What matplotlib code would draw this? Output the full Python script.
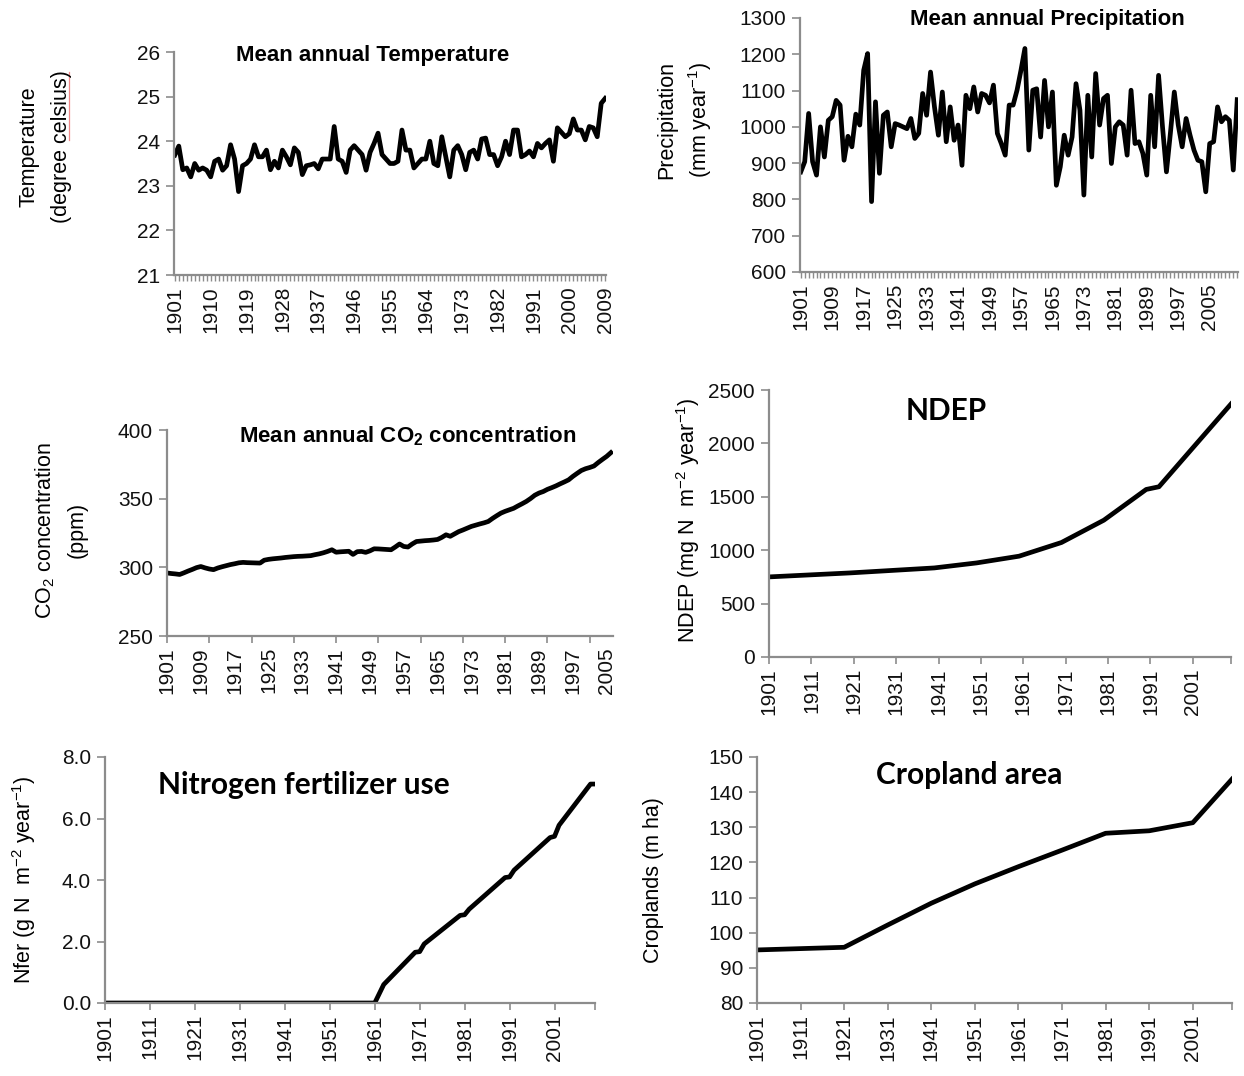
import numpy as np
import matplotlib
matplotlib.use("Agg")
import matplotlib.pyplot as plt
from matplotlib.lines import Line2D
from matplotlib.ticker import FormatStrFormatter

NARROW = ["Liberation Sans Narrow", "Liberation Sans", "DejaVu Sans"]
BOLDF = ["Lato", "Open Sans", "DejaVu Sans"]
GREY = "#8c8c8c"

plt.rcParams["mathtext.default"] = "regular"
plt.rcParams["mathtext.fontset"] = "custom"
plt.rcParams["mathtext.rm"] = "Liberation Sans"
plt.rcParams["mathtext.bf"] = "Liberation Sans:bold"

# ---------------- data ----------------
temp_years = np.arange(1901, 2010)
temp = [23.69, 23.89, 23.36, 23.40, 23.20, 23.50, 23.35, 23.40, 23.35, 23.20,
        23.55, 23.60, 23.35, 23.45, 23.92, 23.60, 22.87, 23.45, 23.50, 23.60,
        23.92, 23.65, 23.65, 23.80, 23.36, 23.55, 23.40, 23.80, 23.65, 23.47,
        23.85, 23.75, 23.25, 23.45, 23.47, 23.50, 23.38, 23.60, 23.60, 23.60,
        24.33, 23.60, 23.55, 23.30, 23.80, 23.90, 23.80, 23.70, 23.35, 23.75,
        23.95, 24.18, 23.70, 23.60, 23.50, 23.50, 23.55, 24.25, 23.80, 23.80,
        23.40, 23.50, 23.60, 23.60, 24.00, 23.50, 23.45, 24.10, 23.65, 23.20,
        23.80, 23.90, 23.70, 23.36, 23.75, 23.80, 23.60, 24.05, 24.07, 23.70,
        23.70, 23.45, 23.65, 24.00, 23.70, 24.25, 24.25, 23.65, 23.70, 23.78,
        23.65, 23.95, 23.85, 23.95, 24.03, 23.55, 24.30, 24.20, 24.10, 24.17,
        24.50, 24.25, 24.25, 24.03, 24.33, 24.30, 24.10, 24.85, 24.96]

prec_years = np.arange(1901, 2013)
prec = [876, 904, 1037, 904, 867, 1000, 917, 1018, 1028, 1073,
        1060, 908, 974, 945, 1035, 1005, 1156, 1202, 794, 1069,
        872, 1032, 1041, 945, 1009, 1005, 1000, 995, 1023, 968,
        982, 1092, 1032, 1151, 1055, 977, 1096, 959, 1055,
        963, 1005, 894, 1087, 1050, 1110, 1041, 1092, 1087, 1066,
        1115, 982, 954, 922, 1060, 1060, 1101, 1156, 1216, 936,
        1101, 1105, 972, 1128, 1000, 1096, 839, 890, 977,
        922, 972, 1119, 1046, 812, 1087, 917, 1147, 1005, 1078,
        1087, 899, 1000, 1014, 1005, 922, 1101, 954, 959, 927,
        867, 1087, 945, 1142, 1000, 876, 982, 1096, 1005,
        945, 1023, 977, 936, 908, 904, 821, 954, 959, 1055, 1014, 1028, 1018, 881,
        1075]

co2_years = np.arange(1901, 2007)
co2 = [295.9, 295.5, 295.2, 294.8, 296.0, 297.3, 298.5, 299.8, 300.6, 299.6,
       298.8, 298.3, 299.5, 300.4, 301.2, 302.0, 302.6, 303.3, 303.6, 303.4,
       303.3, 303.2, 303.1, 305.2, 305.8, 306.2, 306.5, 306.8, 307.2, 307.5,
       307.8, 308.0, 308.1, 308.3, 308.5, 309.2, 309.8, 310.6, 311.6, 312.8,
       311.0, 311.3, 311.5, 311.7, 309.4, 311.4, 311.6, 310.9, 312.0, 313.5,
       313.4, 313.2, 313.0, 312.8, 314.8, 317.0, 315.2, 314.8, 317.0, 318.8,
       319.1, 319.4, 319.6, 319.9, 320.3, 321.8, 323.7, 322.6, 324.3, 326.0,
       327.2, 328.5, 329.8, 330.7, 331.6, 332.4, 333.4, 335.6, 337.6, 339.5,
       340.8, 341.9, 343.0, 344.7, 346.3, 348.0, 350.1, 352.5, 354.1, 355.2,
       356.8, 358.0, 359.3, 360.8, 362.2, 363.7, 366.2, 368.4, 370.5, 371.8,
       372.7, 373.8, 376.3, 378.6, 380.8, 383.5]

ndep_years = [1901, 1920, 1940, 1950, 1960, 1970, 1980, 1990, 1993, 2010]
ndep = [750, 787, 834, 881, 944, 1072, 1281, 1569, 1594, 2369]

nfer_years = [1901, 1961, 1962, 1963, 1970, 1971, 1972, 1980, 1981, 1982,
              1990, 1991, 1992, 2000, 2001, 2002, 2009, 2010]
nfer = [0.0, 0.0, 0.30, 0.60, 1.65, 1.67, 1.92, 2.85, 2.87, 3.05,
        4.08, 4.10, 4.32, 5.38, 5.42, 5.78, 7.12, 7.12]

crop_years = [1901, 1921, 1931, 1941, 1951, 1961, 1971, 1981, 1991, 2001, 2010]
crop = [95.1, 95.85, 102.2, 108.4, 113.9, 118.8, 123.5, 128.3, 129.0, 131.3, 143.7]

# ---------------- figure ----------------
W, H = 1244, 1076
fig = plt.figure(figsize=(W / 100, H / 100), dpi=100)


def box(l, r, t, b):
    return [l / W, 1 - b / H, (r - l) / W, (b - t) / H]


def style(ax):
    for s in ["top", "right"]:
        ax.spines[s].set_visible(False)
    for s in ["left", "bottom"]:
        ax.spines[s].set_color(GREY)
        ax.spines[s].set_linewidth(1.6)
    ax.tick_params(axis="both", which="both", color=GREY, width=1.2,
                   direction="out", labelcolor="#111111")
    ax.tick_params(axis="y", length=6, labelsize=15, pad=4)
    ax.tick_params(axis="x", length=5, labelsize=15, rotation=90, pad=3)
    for lab in ax.get_xticklabels() + ax.get_yticklabels():
        lab.set_family(NARROW)


def year_axis(ax, first, last, tick_step, label_step, end_tick=None):
    ticks = list(range(first, last + 1, tick_step))
    if end_tick is not None:
        ticks.append(end_tick)
    labels = list(range(first, last + 1, label_step))
    ax.xaxis.remove_overlapping_locs = False
    ax.set_xticks(ticks)
    ax.set_xticklabels([])
    ax.set_xticks(labels, minor=True)
    ax.set_xticklabels([str(y) for y in labels], minor=True)
    ax.tick_params(axis="x", which="minor", length=0, labelsize=15,
                   rotation=90, pad=8)
    for lab in ax.get_xticklabels(minor=True):
        lab.set_family(NARROW)


def ylab(x, y, text):
    fig.text(x / W, 1 - y / H, text, rotation=90, ha="center", va="center",
             fontsize=15.5, family=NARROW, linespacing=1.05)


def narrow_title(x, y, text):
    fig.text(x / W, 1 - y / H, text, ha="center", va="center",
             fontsize=16, family=NARROW, fontweight="bold")


def bold_title(x, y, text):
    fig.text(x / W, 1 - y / H, text, ha="center", va="center",
             fontsize=21.5, family=BOLDF, fontweight="bold")


LW = 3.4

# Temperature
ax1 = fig.add_axes(box(174, 606, 52, 275))
ax1.plot(temp_years, temp, color="black", lw=LW, solid_joinstyle="round")
ax1.set_xlim(1900.8, 2009.2)
ax1.set_ylim(21, 26)
ax1.set_yticks(range(21, 27))
year_axis(ax1, 1901, 2009, 1, 9)
style(ax1)
ax1.tick_params(axis="x", which="major", length=4, width=1.0)
narrow_title(373, 55, "Mean annual Temperature")
ylab(29, 147, "Temperature")
ylab(61, 147, "(degree celsius)")
# spell-check underline visible in the source under "celsius"
fig.add_artist(Line2D([69 / W, 69 / W], [1 - 72 / H, 1 - 140 / H],
                      color="#f08a8a", lw=0.9))

# Precipitation
ax2 = fig.add_axes(box(800, 1238, 18, 272))
ax2.plot(prec_years, prec, color="black", lw=LW, solid_joinstyle="round")
ax2.set_xlim(1900.8, 2012.2)
ax2.set_ylim(600, 1300)
ax2.set_yticks(range(600, 1301, 100))
year_axis(ax2, 1901, 2012, 1, 8)
style(ax2)
ax2.tick_params(axis="x", which="major", length=4, width=1.0)
narrow_title(1047, 19, "Mean annual Precipitation")
ylab(667, 120, "Precipitation")
ylab(700, 120, "(mm year$^{-1}$)")

# CO2
ax3 = fig.add_axes(box(167, 613, 430, 636))
ax3.plot(co2_years, co2, color="black", lw=LW, solid_joinstyle="round")
ax3.set_xlim(1901, 2006.5)
ax3.set_ylim(250, 400)
ax3.set_yticks(range(250, 401, 50))
year_axis(ax3, 1901, 2006, 10, 8)
style(ax3)
narrow_title(408, 436, "Mean annual CO$_2$ concentration")
ylab(45, 530, "CO$_2$ concentration")
ylab(77, 530, "(ppm)")

# NDEP
ax4 = fig.add_axes(box(769, 1231, 390, 657))
ax4.plot(ndep_years, ndep, color="black", lw=LW, solid_joinstyle="round")
ax4.set_xlim(1901, 2010)
ax4.set_ylim(0, 2500)
ax4.set_yticks(range(0, 2501, 500))
year_axis(ax4, 1901, 2001, 10, 10, end_tick=2010)
style(ax4)
bold_title(946, 411, "NDEP")
ylab(688, 520, "NDEP (mg N  m$^{-2}$ year$^{-1}$)")

# Nitrogen fertilizer
ax5 = fig.add_axes(box(105, 595, 757, 1003))
ax5.plot(nfer_years, nfer, color="black", lw=LW, solid_joinstyle="round")
ax5.set_xlim(1901, 2010)
ax5.set_ylim(0, 8)
ax5.set_yticks([0, 2, 4, 6, 8])
ax5.yaxis.set_major_formatter(FormatStrFormatter("%.1f"))
year_axis(ax5, 1901, 2001, 10, 10, end_tick=2010)
style(ax5)
bold_title(304, 785, "Nitrogen fertilizer use")
ylab(24, 880, "Nfer (g N  m$^{-2}$ year$^{-1}$)")

# Cropland
ax6 = fig.add_axes(box(757, 1232, 757, 1003))
ax6.plot(crop_years, crop, color="black", lw=LW, solid_joinstyle="round")
ax6.set_xlim(1901, 2010)
ax6.set_ylim(80, 150)
ax6.set_yticks(range(80, 151, 10))
year_axis(ax6, 1901, 2001, 10, 10, end_tick=2010)
style(ax6)
bold_title(969, 775, "Cropland area")
ylab(653, 880, "Croplands (m ha)")

fig.savefig("out.png", dpi=100)
